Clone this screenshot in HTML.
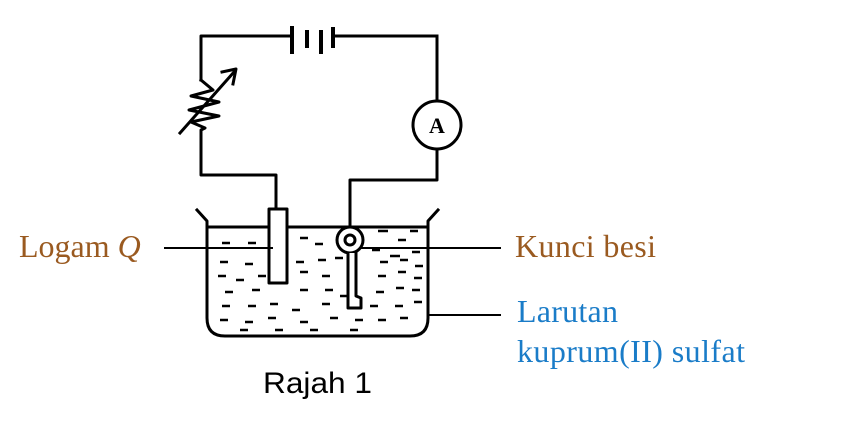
<!DOCTYPE html>
<html><head><meta charset="utf-8"><style>
html,body{margin:0;padding:0;background:#fff;width:841px;height:428px;overflow:hidden}
</style></head><body>
<svg width="841" height="428" viewBox="0 0 841 428" xmlns="http://www.w3.org/2000/svg">
<g stroke="#000" stroke-width="2.5">
<path d="M222,243h8M248,243h8M300,238h8M315,244h8M378,231h10M398,240h8M410,231h8M372,250h8M390,256h10M412,252h8
M220,262h8M245,264h8M296,262h8M318,260h8M335,258h8M380,262h8M400,260h8M415,266h8
M218,276h8M236,280h8M258,276h8M300,272h8M322,276h8M378,276h8M398,272h8M414,278h8
M225,292h8M252,290h8M300,290h8M325,290h8M340,296h8M376,292h8M396,288h8M412,290h8
M222,306h8M248,306h8M270,304h8M292,310h8M322,304h8M370,306h8M395,306h8M414,302h8
M220,320h8M245,322h8M268,318h8M300,322h8M330,318h8M355,320h8M378,320h8M400,318h8
M240,330h8M275,330h8M310,330h8M350,330h8"/>
</g>
<g fill="none" stroke="#000" stroke-width="3" stroke-linejoin="round" stroke-linecap="square">
<polyline points="291,36 201,36 201,80"/>
<line x1="333" y1="36" x2="437" y2="36"/>
<line x1="437" y1="36" x2="437" y2="101"/>
<line x1="292" y1="28" x2="292" y2="52" stroke-width="4"/>
<line x1="307" y1="32" x2="307" y2="46" stroke-width="4"/>
<line x1="321" y1="32" x2="321" y2="52" stroke-width="4"/>
<line x1="333" y1="29" x2="333" y2="46" stroke-width="4"/>
<polyline points="201,80 213,90 191,96 219,102 189,110 219,116 191,122 205,128 201,130 201,175 276,175 276,210"/>
<line x1="180" y1="133" x2="234" y2="72"/>
<polyline points="222,72 236,69 233,84"/>
<circle cx="437" cy="125" r="24"/>
<polyline points="437,149 437,180 350,180 350,228"/>
<path d="M197,210 L207,221 L207,318 Q207,336 225,336 L410,336 Q428,336 428,318 L428,221 L438,210"/>
<line x1="207" y1="227" x2="428" y2="227"/>
<rect x="269" y="209" width="18" height="74" fill="#fff"/>
<circle cx="350" cy="240" r="13" fill="#fff"/>
<circle cx="350" cy="240" r="5"/>
<polyline points="348,253 348,308 361,308 361,298 356,296 356,253" fill="#fff"/>
<line x1="165" y1="248" x2="272" y2="248" stroke-width="2"/>
<line x1="362" y1="248" x2="500" y2="248" stroke-width="2"/>
<line x1="430" y1="315" x2="500" y2="315" stroke-width="2"/>
</g>
<text x="437" y="133" font-family="Liberation Serif,serif" font-weight="bold" font-size="22" text-anchor="middle">A</text>
<g font-family="Liberation Serif,serif" font-size="32">
<text x="19" y="257" fill="#9a5a20">Logam <tspan font-style="italic">Q</tspan></text>
<text x="515" y="257" fill="#9a5a20" textLength="141">Kunci besi</text>
<text x="517" y="322" fill="#1a7cc8" textLength="101">Larutan</text>
<text x="517" y="362" fill="#1a7cc8" textLength="228">kuprum(II) sulfat</text>
</g>
<text x="263" y="393" font-family="Liberation Sans,sans-serif" font-size="30" textLength="109" lengthAdjust="spacingAndGlyphs">Rajah 1</text>
</svg>
</body></html>
